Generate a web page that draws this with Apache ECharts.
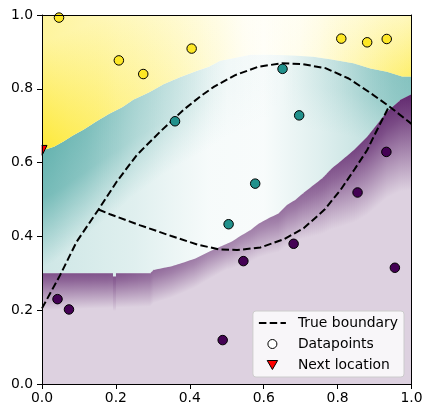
<!DOCTYPE html>
<html><head><meta charset="utf-8">
<script src="https://cdn.jsdelivr.net/npm/echarts@6/dist/echarts.min.js"></script>
<style>html,body{margin:0;padding:0;background:#fff}#c{width:432px;height:418px}</style>
</head><body><div id="c"></div>
<script>
// ---- data ----
// predicted class regions (edges of the pixelated background)
const upperEdgeX = [0, 0.032, 0.059, 0.081, 0.113, 0.149, 0.181, 0.217, 0.248, 0.289, 0.330, 0.370, 0.420, 0.452, 0.482, 0.514, 0.564, 0.618, 0.680, 0.734, 0.780, 0.843, 0.889, 0.934, 0.975, 1.0];
const upperEdgeY = [0.633, 0.643, 0.658, 0.672, 0.690, 0.713, 0.732, 0.750, 0.771, 0.790, 0.813, 0.830, 0.849, 0.860, 0.876, 0.882, 0.892, 0.892, 0.890, 0.887, 0.880, 0.869, 0.855, 0.846, 0.833, 0.833];
const lowerEdgeX = [0, 0.191, 0.191, 0.200, 0.200, 0.293, 0.302, 0.351, 0.383, 0.415, 0.451, 0.482, 0.514, 0.537, 0.564, 0.586, 0.613, 0.640, 0.663, 0.686, 0.708, 0.735, 0.758, 0.785, 0.810, 0.844, 0.880, 0.934, 0.970, 1.0];
const lowerEdgeY = [0.300, 0.300, 0.291, 0.291, 0.300, 0.300, 0.309, 0.319, 0.329, 0.340, 0.358, 0.372, 0.386, 0.401, 0.417, 0.434, 0.449, 0.462, 0.485, 0.499, 0.518, 0.539, 0.557, 0.585, 0.605, 0.634, 0.670, 0.738, 0.770, 0.785];
// true boundary curves
const boundaryAX = [0, 0.049, 0.094, 0.153, 0.202, 0.257, 0.320, 0.383, 0.428, 0.466, 0.523, 0.586, 0.649, 0.704, 0.767, 0.830, 0.884, 0.939, 1.0];
const boundaryAY = [0.205, 0.295, 0.386, 0.473, 0.548, 0.621, 0.684, 0.743, 0.779, 0.806, 0.837, 0.860, 0.869, 0.867, 0.856, 0.828, 0.792, 0.753, 0.705];
const boundaryBX = [0.153, 0.184, 0.266, 0.350, 0.420, 0.478, 0.528, 0.591, 0.654, 0.708, 0.764, 0.808, 0.846, 0.880, 0.902, 0.939];
const boundaryBY = [0.473, 0.460, 0.430, 0.401, 0.378, 0.365, 0.363, 0.370, 0.392, 0.422, 0.472, 0.526, 0.582, 0.634, 0.679, 0.752];
// datapoints
const pointsX = [0.046, 0.208, 0.274, 0.405, 0.810, 0.880, 0.933, 0.360, 0.651, 0.696, 0.577, 0.505, 0.042, 0.073, 0.489, 0.545, 0.681, 0.955, 0.854, 0.932];
const pointsY = [0.993, 0.877, 0.840, 0.909, 0.936, 0.926, 0.935, 0.712, 0.854, 0.728, 0.543, 0.433, 0.230, 0.202, 0.119, 0.333, 0.380, 0.315, 0.519, 0.629];
const pointsClass = [2, 2, 2, 2, 2, 2, 2, 1, 1, 1, 1, 1, 0, 0, 0, 0, 0, 0, 0, 0];
// next location
const nextX = [0.0];
const nextY = [0.633];
// ticks
const tickValues = [0, 0.2, 0.4, 0.6, 0.8, 1.0];

// ---- styling ----
const CLS = [[68, 1, 84], [33, 145, 140], [253, 231, 37]];
const clsHex = ['#440154', '#21918c', '#fde725'];
const rgba = (c, a) => 'rgba(' + c[0] + ',' + c[1] + ',' + c[2] + ',' + a + ')';
const mixW = (c, a) => 'rgb(' + c.map(v => Math.round(v * a + 255 * (1 - a))).join(',') + ')';
function tab(t, x) {
  if (x <= t[0][0]) return t[0][1];
  for (let i = 1; i < t.length; i++) {
    if (x <= t[i][0]) { const f = (x - t[i - 1][0]) / (t[i][0] - t[i - 1][0]); return t[i - 1][1] + f * (t[i][1] - t[i - 1][1]); }
  }
  return t[t.length - 1][1];
}
const shade = {
  tealBase: [[0, 0.22], [0.25, 0.14], [0.45, 0.04], [0.6, 0.03], [0.75, 0.14], [0.9, 0.28], [1, 0.34]],
  tealBandA: [[0, 0.6], [0.12, 0.5], [0.25, 0.3], [0.4, 0.15], [0.5, 0.03], [0.65, 0.0], [0.8, 0.12], [0.95, 0.3], [1, 0.32]],
  tealBandD: [[0, 0.32], [0.3, 0.25], [0.6, 0.2], [1, 0.2]],
  purpleBandA: [[0, 0.62], [0.2, 0.6], [0.3, 0.5], [0.45, 0.38], [0.55, 0.38], [0.7, 0.5], [0.85, 0.68], [1, 0.8]],
  purpleBandD: [[0, 0.1], [0.3, 0.09], [0.5, 0.07], [0.7, 0.12], [0.85, 0.2], [1, 0.26]],
  yellowBase: [[0, 0.45], [0.15, 0.35], [0.3, 0.22], [0.45, 0.1], [0.55, 0.03], [0.7, 0.04], [0.85, 0.15], [1, 0.35]],
  yellowBandA: [[0, 0.85], [0.08, 0.6], [0.2, 0.35], [0.35, 0.2], [0.5, 0.06], [0.6, 0.0], [0.75, 0.08], [0.9, 0.3], [1, 0.5]],
  yellowBandD: [[0, 0.3], [0.3, 0.25], [1, 0.15]]
};

function renderBackground(params, api) {
  const P = (x, y) => api.coord([x, y]);
  const kids = [];
  const o = P(0, 0), e = P(1, 1);
  const sxPx = e[0] - o[0], syPx = o[1] - e[1];
  const top = e[1], bot = o[1];
  const poly = (pts, fill) => kids.push({ type: 'polygon', silent: true, shape: { points: pts }, style: { fill: fill } });
  const hGrad = (c, t) => ({ type: 'linear', global: true, x: o[0], y: 0, x2: e[0], y2: 0,
    colorStops: t.map(s => ({ offset: s[0], color: rgba(c, s[1]) })) });
  // shaded strip along a region edge, drawn in thin pixel columns
  const band = (ex, ey, dir, c, tA, tD, plateau) => {
    const clampY = v => Math.max(top, Math.min(bot, v));
    for (let i = 0; i < ex.length - 1; i++) {
      const pa = P(ex[i], ey[i]), pb = P(ex[i + 1], ey[i + 1]);
      const w = pb[0] - pa[0];
      if (w < 0.5) continue;
      const sx = pb[0] - pa[0], sy = pb[1] - pa[1], L = Math.hypot(sx, sy);
      let nx = -sy / L, ny = sx / L;
      if (ny * (-dir) < 0) { nx = -nx; ny = -ny; }
      const c0 = Math.round(pa[0]), c1 = Math.round(pb[0]);
      for (let cx = c0; cx < c1; cx += 2) {
        const cxe = Math.min(cx + 2, c1);
        const yAt = px => pa[1] + (px - pa[0]) / w * sy;
        const xm = (cx + cxe) / 2;
        const dataX = (xm - o[0]) / sxPx;
        const a = tab(tA, dataX), dPx = tab(tD, dataX) * syPx;
        const vy = -dir * dPx;
        const ya = yAt(cx), yb = yAt(cxe);
        const pts = [[cx, ya], [cxe, yb], [cxe, clampY(yb + vy)], [cx, clampY(ya + vy)]];
        const g0 = [xm, yAt(xm)];
        const proj = Math.abs(ny * vy);
        const g1 = [g0[0] + nx * proj, g0[1] + ny * proj];
        kids.push({ type: 'polygon', silent: true, shape: { points: pts }, style: { fill: {
          type: 'linear', global: true, x: g0[0], y: g0[1], x2: g1[0], y2: g1[1],
          colorStops: [{ offset: 0, color: rgba(c, a) }, { offset: plateau, color: rgba(c, a * 0.85) }, { offset: 1, color: rgba(c, 0) }] } } });
      }
    }
  };
  const upPts = upperEdgeX.map((x, i) => P(x, upperEdgeY[i]));
  const lowPts = lowerEdgeX.map((x, i) => P(x, lowerEdgeY[i]));
  const rect = [P(0, 0), P(1, 0), P(1, 1), P(0, 1)];
  // class 1 (teal)
  poly(rect, '#ffffff');
  poly(rect, hGrad(CLS[1], shade.tealBase));
  band(upperEdgeX, upperEdgeY, -1, CLS[1], shade.tealBandA, shade.tealBandD, 0.4);
  // class 0 (purple)
  const lowPoly = lowPts.concat([P(1, 0), P(0, 0)]);
  poly(lowPoly, mixW(CLS[0], 0.18));
  band(lowerEdgeX, lowerEdgeY, -1, CLS[0], shade.purpleBandA, shade.purpleBandD, 0.2);
  // class 2 (yellow)
  const upPoly = upPts.concat([P(1, 1), P(0, 1)]);
  poly(upPoly, '#ffffff');
  poly(upPoly, hGrad(CLS[2], shade.yellowBase));
  band(upperEdgeX, upperEdgeY, 1, CLS[2], shade.yellowBandA, shade.yellowBandD, 0.15);
  return { type: 'group', children: kids };
}

const FONT = 'DejaVu Sans';
const axisCommon = {
  type: 'value', min: 0, max: 1, interval: 0.2, z: 10,
  splitLine: { show: false },
  axisLine: { show: true, onZero: false, lineStyle: { color: '#000', width: 1 } }
};
const chart = echarts.init(document.getElementById('c'), null, { renderer: 'canvas' });
chart.setOption({
  animation: false,
  backgroundColor: '#fff',
  grid: { left: 42, top: 15, width: 369.5, height: 369 },
  xAxis: [
    Object.assign({}, axisCommon, { position: 'bottom',
      axisTick: { show: true, inside: false, length: 5, lineStyle: { color: '#000', width: 1 } },
      axisLabel: { margin: 7, color: '#000', fontFamily: FONT, fontSize: 13.9, formatter: v => tickValues.indexOf(v) >= 0 ? v.toFixed(1) : '' } }),
    Object.assign({}, axisCommon, { position: 'top', axisTick: { show: false }, axisLabel: { show: false } })
  ],
  yAxis: [
    Object.assign({}, axisCommon, { position: 'left',
      axisTick: { show: true, inside: false, length: 5, lineStyle: { color: '#000', width: 1 } },
      axisLabel: { margin: 9, color: '#000', fontFamily: FONT, fontSize: 13.9, formatter: v => tickValues.indexOf(v) >= 0 ? v.toFixed(1) : '' } }),
    Object.assign({}, axisCommon, { position: 'right', axisTick: { show: false }, axisLabel: { show: false } })
  ],
  graphic: [{ type: 'rect', z: 3, silent: true, shape: { x: 0, y: 0, width: 41.6, height: 418 }, style: { fill: '#fff' } }],
  legend: {
    orient: 'vertical', right: 28, bottom: 41,
    padding: [5, 6, 5, 5], itemWidth: 27, itemHeight: 9, itemGap: 7,
    backgroundColor: 'rgba(255,255,255,0.8)', borderColor: '#cccccc', borderWidth: 1, borderRadius: 3,
    selectedMode: false,
    textStyle: { fontFamily: FONT, fontSize: 13.9, color: '#000', padding: [0, 0, 0, 7] },
    data: [
      { name: 'True boundary', itemStyle: { opacity: 0 } },
      { name: 'Datapoints', icon: 'circle', itemStyle: { color: '#ffffff', borderColor: '#000', borderWidth: 1 } },
      { name: 'Next location', icon: 'path://M0,0L10,0L5,8.66Z', itemStyle: { color: '#ff0000', borderColor: '#000', borderWidth: 1 } }
    ]
  },
  series: [
    { type: 'custom', name: 'regions', coordinateSystem: 'cartesian2d', z: 1, silent: true,
      renderItem: renderBackground, data: [[0.5, 0.5]] },
    { type: 'line', name: 'True boundary', z: 3, symbol: 'none', showSymbol: false, silent: true,
      lineStyle: { color: '#000', width: 2, type: [7.5, 3.3] },
      data: boundaryAX.map((x, i) => [x, boundaryAY[i]]) },
    { type: 'line', name: 'True boundary', z: 3, symbol: 'none', showSymbol: false, silent: true,
      lineStyle: { color: '#000', width: 2, type: [7.5, 3.3] },
      data: boundaryBX.map((x, i) => [x, boundaryBY[i]]) },
    { type: 'scatter', name: 'Datapoints', z: 4, symbol: 'circle', symbolSize: 9.5, silent: true,
      itemStyle: { borderColor: '#000', borderWidth: 1, opacity: 1 },
      data: pointsX.map((x, i) => ({ value: [x, pointsY[i]], itemStyle: { color: clsHex[pointsClass[i]] } })) },
    { type: 'scatter', name: 'Next location', z: 2, symbol: 'triangle', symbolRotate: 180, symbolSize: 10, silent: true,
      itemStyle: { color: '#ff0000', borderColor: '#000', borderWidth: 1, opacity: 1 },
      data: nextX.map((x, i) => [x, nextY[i]]) }
  ]
});
</script>
</body></html>
